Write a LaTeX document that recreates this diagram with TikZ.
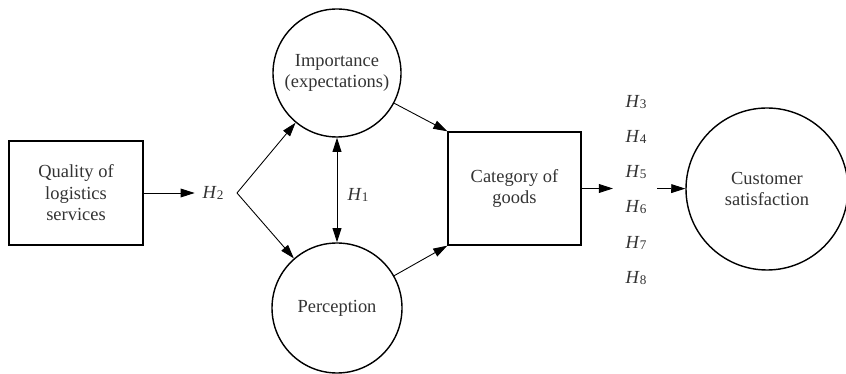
\documentclass[tikz,border=0pt]{standalone}
\usepackage{fontspec}
\setmainfont{Liberation Serif}
\usetikzlibrary{shapes, arrows.meta}
\newcommand{\hyp}[1]{\textit{H}{\fontsize{7.5}{7.5}\selectfont\raisebox{-0.5pt}{#1}}}

\begin{document}
\begin{tikzpicture}[>={Triangle[length=8pt,width=5pt]}, font=\fontsize{10.5}{12.2}\selectfont, text=black!80]
\useasboundingbox (0,0) rectangle (16.92,7.48);

\node[rectangle, draw=black, line width=0.8pt, minimum width=2.68cm, minimum height=2.08cm, align=center] (1) at (1.52,3.62) {Quality of\\logistics\\services};
\node[circle, draw=black, line width=0.8pt, minimum size=2.56cm, inner sep=0pt, align=center] (2) at (6.74,6.02) {Importance\\(expectations)};
\node[circle, draw=black, line width=0.8pt, minimum size=2.6cm] (3) at (6.74,1.32) {Perception};
\node[rectangle, draw=black, line width=0.8pt, minimum width=2.66cm, minimum height=2.26cm, align=center] (4) at (10.29,3.71) {Category of\\goods};
\node[circle, draw=black, line width=0.8pt, minimum size=3.24cm, align=center] (5) at (15.34,3.70) {Customer\\satisfaction};

\node (6) at (4.26,3.62) {\hyp{2}};
\node (7) at (7.16,3.58) {\hyp{1}};
\node (8) at (12.72,5.44) {\hyp{3}};
\node (9) at (12.72,4.74) {\hyp{4}};
\node (10) at (12.72,4.04) {\hyp{5}};
\node (11) at (12.72,3.34) {\hyp{6}};
\node (12) at (12.72,2.62) {\hyp{7}};
\node (13) at (12.72,1.92) {\hyp{8}};

\coordinate (v) at (4.74,3.62);
\coordinate (a) at (12.26,3.71);
\coordinate (b) at (13.14,3.71);

\draw[->, line width=0.5pt] (1) -- ([xshift=-1pt]6.west);
\draw[->, line width=0.5pt] (v) -- (2);
\draw[->, line width=0.5pt] (v) -- (3);
\draw[<->, line width=0.5pt] (2) -- (3);
\draw[->, line width=0.5pt] (2) -- (4.north west);
\draw[->, line width=0.5pt] (3) -- (4.south west);
\draw[->, line width=0.5pt] (4) -- (a);
\draw[->, line width=0.5pt] (b) -- (5);
\end{tikzpicture}
\end{document}
